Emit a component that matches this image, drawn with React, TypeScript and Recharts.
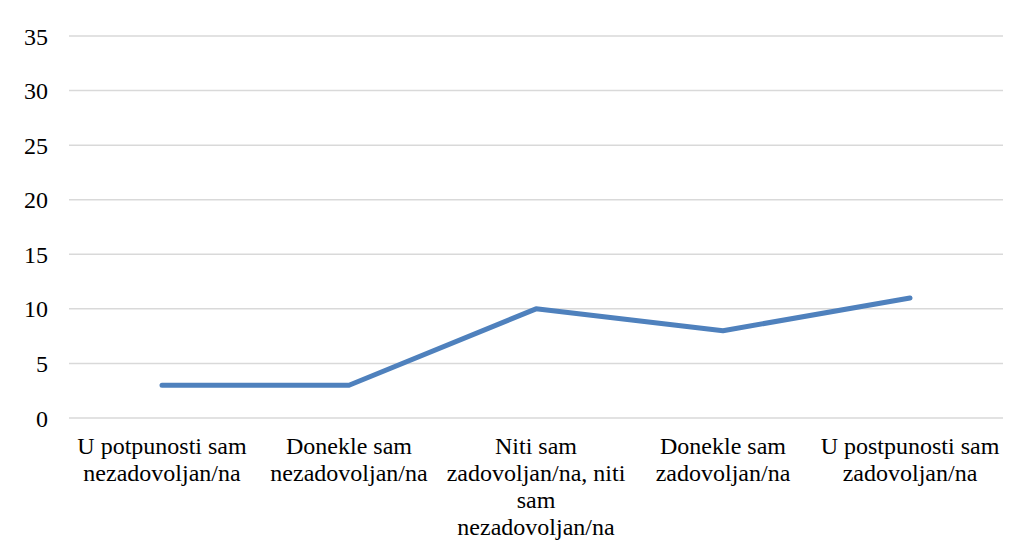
import { LineChart, Line, XAxis, YAxis, CartesianGrid } from 'recharts'

const categories = [
    'U potpunosti sam\nnezadovoljan/na',
    'Donekle sam\nnezadovoljan/na',
    'Niti sam\nzadovoljan/na, niti\nsam\nnezadovoljan/na',
    'Donekle sam\nzadovoljan/na',
    'U postpunosti sam\nzadovoljan/na',
]
const values = [3, 3, 10, 8, 11]
const yTicks = [0, 5, 10, 15, 20, 25, 30, 35]

const data = categories.map((name, i) => ({ name, value: values[i] }))

const FONT = 'Liberation Serif, Times New Roman, serif'

const CategoryTick = (props: any) => {
    const { x, y, payload } = props
    const lines = String(payload.value).split('\n')
    return (
        <text
            x={x}
            y={y}
            textAnchor="middle"
            fill="#000"
            style={{ fontFamily: FONT, fontSize: 24 }}
        >
            {lines.map((line, i) => (
                <tspan key={i} x={x} y={y + 28 + i * 27}>
                    {line}
                </tspan>
            ))}
        </text>
    )
}

const App = () => {
    return (
        <div
            style={{
                marginLeft: -1,
                marginTop: -1,
                width: 1012,
                height: 548,
                borderLeft: '1px solid #d9d9d9',
                borderTop: '1px solid #d9d9d9',
                background: '#fff',
                fontFamily: FONT,
            }}
        >
            <LineChart
                width={1012}
                height={548}
                data={data}
                margin={{ top: 28, right: 17, left: 0, bottom: 0 }}
                style={{ fontFamily: FONT }}
            >
                <CartesianGrid
                    vertical={false}
                    stroke="#d9d9d9"
                    strokeWidth={1.5}
                />
                <XAxis
                    dataKey="name"
                    axisLine={false}
                    tickLine={false}
                    interval={0}
                    height={138}
                    padding={{ left: 93, right: 93 }}
                    tick={<CategoryTick />}
                />
                <YAxis
                    domain={[0, 35]}
                    ticks={yTicks}
                    width={61}
                    axisLine={false}
                    tickLine={false}
                    tickSize={0}
                    tickMargin={21}
                    tick={{ fill: '#000', fontSize: 24, style: { fontFamily: FONT } }}
                />
                <Line
                    dataKey="value"
                    type="linear"
                    stroke="#4f81bd"
                    strokeWidth={5}
                    strokeLinecap="round"
                    strokeLinejoin="round"
                    dot={false}
                    activeDot={false}
                    isAnimationActive={false}
                />
            </LineChart>
        </div>
    )
}

export default App
